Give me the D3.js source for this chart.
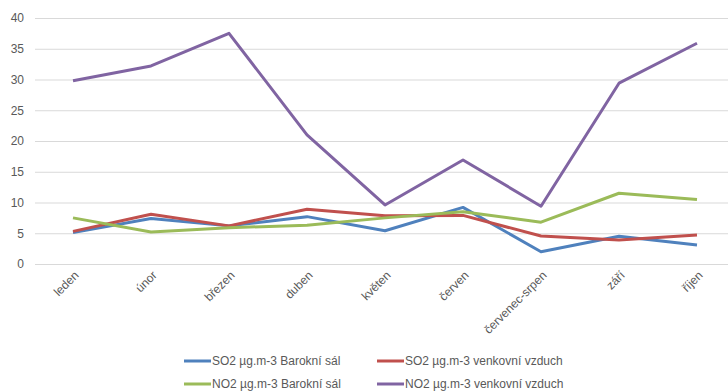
<!DOCTYPE html>
<html>
<head>
<meta charset="utf-8">
<script src="https://cdn.jsdelivr.net/npm/d3@7"></script>
<style>
  body { margin: 0; background: #fff; }
  text { font-family: "Liberation Sans", Arial, sans-serif; fill: #595959; }
</style>
</head>
<body>
<svg id="chart" width="728" height="391"></svg>
<script>
var months = ["leden", "únor", "březen", "duben", "květen", "červen", "červenec-srpen", "září", "říjen"];
var so2Sal = [5.1, 7.4, 6.2, 7.7, 5.4, 9.2, 2.0, 4.5, 3.1];
var so2Venku = [5.3, 8.1, 6.2, 8.9, 7.85, 7.9, 4.55, 3.9, 4.7];
var no2Sal = [7.5, 5.2, 5.9, 6.3, 7.5, 8.5, 6.8, 11.5, 10.5];
var no2Venku = [29.8, 32.2, 37.5, 21.0, 9.6, 16.9, 9.4, 29.4, 35.9];
var yTicks = [0, 5, 10, 15, 20, 25, 30, 35, 40];

var series = [
  {name: "SO2 µg.m-3 Barokní sál", values: so2Sal, color: "#4f81bd"},
  {name: "SO2 µg.m-3 venkovní vzduch", values: so2Venku, color: "#c0504d"},
  {name: "NO2 µg.m-3 Barokní sál", values: no2Sal, color: "#9bbb59"},
  {name: "NO2 µg.m-3 venkovní vzduch", values: no2Venku, color: "#8064a2"}
];

var svg = d3.select("#chart");

var x = d3.scalePoint().domain(months).range([73, 697]);
var y = d3.scaleLinear().domain([0, 40]).range([264, 18]);

// gridlines + y labels
var yAxis = d3.axisLeft(y).tickValues(yTicks).tickSize(-693).tickPadding(11);
var gy = svg.append("g").attr("transform", "translate(35,0)").call(yAxis);
gy.select(".domain").remove();
gy.selectAll(".tick line").attr("stroke", "#d9d9d9").attr("stroke-width", 1);
gy.selectAll(".tick text").attr("font-size", 12).style("fill", "#595959");

// x labels, rotated
var xAxis = d3.axisBottom(x).tickSize(0).tickPadding(0);
var gx = svg.append("g").attr("transform", "translate(0,264)").call(xAxis);
gx.select(".domain").remove();
gx.selectAll(".tick text")
  .attr("font-size", 12)
  .attr("text-anchor", "end")
  .attr("y", 0)
  .attr("dy", 0)
  .attr("transform", "translate(6,12) rotate(-45)")
  .style("fill", "#595959");

var line = d3.line()
  .x(function(d, i) { return x(months[i]); })
  .y(function(d) { return y(d); });

svg.append("g").selectAll("path")
  .data(series)
  .enter().append("path")
    .attr("d", function(d) { return line(d.values); })
    .attr("fill", "none")
    .attr("stroke", function(d) { return d.color; })
    .attr("stroke-width", 3)
    .attr("stroke-linejoin", "round");

// legend
var legendPos = [[184, 361], [377, 361], [184, 384], [377, 384]];
var legend = svg.append("g").selectAll("g")
  .data(series)
  .enter().append("g")
    .attr("transform", function(d, i) { return "translate(" + legendPos[i][0] + "," + legendPos[i][1] + ")"; });
legend.append("line")
  .attr("x1", 0).attr("x2", 27)
  .attr("stroke", function(d) { return d.color; })
  .attr("stroke-width", 3);
legend.append("text")
  .attr("x", 28)
  .attr("dy", "0.35em")
  .attr("font-size", 12)
  .text(function(d) { return d.name; });
</script>
</body>
</html>
